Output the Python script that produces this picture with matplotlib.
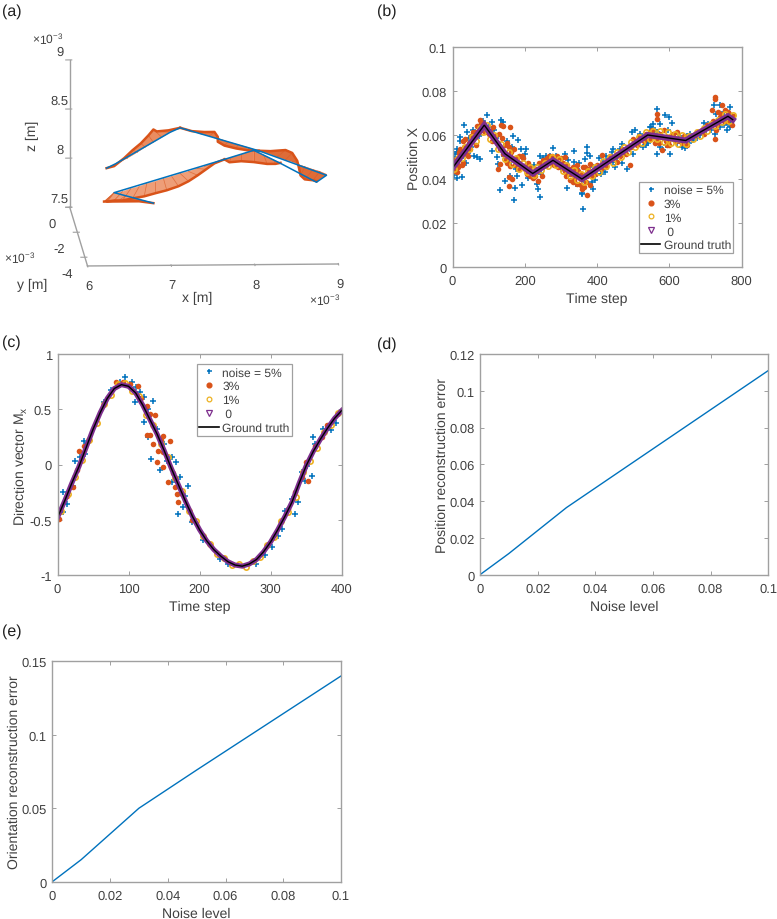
import matplotlib
matplotlib.use('Agg')
import matplotlib.pyplot as plt
from matplotlib.lines import Line2D
from mpl_toolkits.mplot3d.art3d import Poly3DCollection

plt.rcParams['font.family'] = ['Liberation Sans', 'DejaVu Sans']
plt.rcParams['mathtext.fontset'] = 'custom'
plt.rcParams['mathtext.rm'] = 'Liberation Sans'
plt.rcParams['mathtext.it'] = 'Liberation Sans'
plt.rcParams['text.hinting'] = 'no_hinting'
plt.rcParams['text.hinting_factor'] = 1

W, H = 777, 920
BLUE, ORANGE, YELLOW, PURPLE = '#0072BD', '#D95319', '#EDB120', '#7E2F8E'
TXT, SP = '#404040', '#a0a0a0'
FS = 9.6
LFS = 10.3

# ---- panel (a): trajectory, x and z in 1e-3 m
path_x = [6.91, 6.44, 7.76, 8.11, 8.43, 8.86, 8.98, 8.17, 7.23, 7.11, 6.46, 6.35]
path_z = [7.79, 7.90, 8.23, 8.32, 8.185, 7.99, 8.06, 8.315, 8.555, 8.51, 8.195, 8.15]
path_y = -2.0
# orientation whiskers: base x, base z, tip x, tip z, grouped by stretch of the path
whisk_tail = [(6.91,7.79,6.91,7.79),(6.74,7.83,6.74,7.81),(6.58,7.87,6.48,7.81),(6.44,7.90,6.32,7.81)]
whisk_a = [(6.44,7.90,6.36,7.81),(6.54,7.91,6.44,7.82),(6.64,7.94,6.54,7.82),(6.74,7.96,6.66,7.84),(6.83,7.99,6.80,7.86),
           (6.93,8.01,6.93,7.89),(7.03,8.04,7.07,7.92),(7.13,8.06,7.21,7.96),(7.23,8.09,7.33,8.01),
           (7.33,8.11,7.44,8.07),(7.43,8.14,7.54,8.13),(7.52,8.16,7.64,8.19),(7.62,8.19,7.70,8.21),(7.76,8.23,7.76,8.23)]
whisk_b = [(7.76,8.23,7.76,8.23),(7.84,8.25,7.82,8.20),(7.96,8.28,7.96,8.21),(8.11,8.32,8.11,8.20),
           (8.23,8.27,8.27,8.18),(8.35,8.22,8.37,8.18),(8.43,8.19,8.43,8.19)]
whisk_c = [(8.17,8.315,8.17,8.315),(8.27,8.29,8.31,8.31),(8.39,8.25,8.49,8.32),(8.49,8.22,8.57,8.29),(8.57,8.20,8.63,8.21),
           (8.65,8.17,8.65,8.14),(8.72,8.15,8.67,8.06),(8.82,8.12,8.72,8.02),(8.90,8.10,8.82,8.01),(8.98,8.07,8.86,8.00)]
whisk_d = [(7.23,8.555,7.23,8.555),(7.37,8.52,7.37,8.52),(7.48,8.49,7.52,8.51),(7.58,8.47,7.64,8.51),(7.64,8.45,7.68,8.46),
           (7.70,8.44,7.68,8.41),(7.80,8.41,7.76,8.37),(7.92,8.38,7.90,8.34),(8.04,8.35,8.04,8.32),(8.17,8.315,8.17,8.315)]
whisk_e = [(7.23,8.555,7.23,8.555),(7.17,8.54,7.09,8.53),(7.11,8.51,6.95,8.52),(7.01,8.46,6.91,8.54),(6.91,8.41,6.85,8.48),
           (6.81,8.36,6.76,8.40),(6.72,8.31,6.66,8.33),(6.60,8.25,6.56,8.25),(6.46,8.19,6.44,8.17),(6.35,8.15,6.35,8.15)]
whisk_groups = [(whisk_tail, '#DE6C38'), (whisk_a, '#EE9E78'), (whisk_b, '#E88457'),
                (whisk_c, '#DE6C38'), (whisk_d, '#E27A4A'), (whisk_e, '#EA8C60')]

# ---- panel (b)
truth_b_t = [0, 88, 145, 222, 278, 358, 540, 645, 762, 775]
truth_b_v = [.045, .0645, .0515, .0425, .0485, .0400, .0600, .0575, .0685, .0670]
n5_b = [(96,.0692),(33,.0645),(134,.067),(140,.0659),(108,.066),(39,.0612),(21,.0574),(22,.059),(12,.0536),(12,.0524),(7,.049),
 (4,.0418),(13,.0403),(27,.041),(44,.052),(67,.0498),(75,.049),(110,.0529),(168,.0597),(182,.0579),(203,.0536),(200,.0513),
 (122,.0498),(125,.047),(160,.0515),(159,.0415),(145,.0392),(179,.0412),(173,.0358),(191,.0373),(132,.0352),(170,.0306),
 (233,.0378),(237,.0355),(242,.0317),(316,.0358),(341,.0378),(279,.054),(242,.0503),(260,.0503),(311,.0515),(335,.0527),
 (373,.0544),(361,.0264),(357,.0337),(372,.0518),(335,.0477),(367,.0492),(385,.0386),(388,.0356),(358,.0333),(335,.0401),
 (417,.0477),(399,.0424),(422,.0432),(445,.0538),(464,.0538),(468,.056),(496,.0613),(505,.0621),(528,.0545),(482,.0447),
 (445,.0477),(547,.0636),(565,.072),(565,.0515),(588,.0689),(600,.0682),(606,.0654),(574,.0651),(556,.0651),(565,.0614),
 (583,.053),(602,.0515),(634,.0545),(643,.054),(666,.0576),(685,.0598),(708,.0651),(722,.0735),(740,.0735),(768,.0727),
 (768,.0636),(740,.0636),(726,.0606),(754,.0659),(777,.0682),(763,.0651),(657,.0606),(625,.0606),(611,.0583),
 (52,.0545),(60,.0505),(85,.0665),(115,.0625),(150,.0575),(190,.0535),(215,.0455),(225,.0465),(250,.0495),(270,.0505),
 (290,.0475),(320,.0485),(350,.0475),(390,.0455),(405,.0495),(430,.0475),(440,.0525),(455,.0495),(475,.0525),(490,.0535),
 (515,.0575),(535,.0555),(550,.0635),(590,.0555),(620,.0565),(655,.0565),(700,.0625),(715,.0625),(735,.0655),(750,.0645),
 (2,.0435),(6,.0515),(17,.0465),(29,.0505),(36,.0475),(47,.0585),(57,.0625),(72,.0595),(92,.0615),(102,.0635),(120,.0585),
 (128,.0555),(142,.0505),(155,.0475),(165,.0545),(176,.0445),(188,.0455),(210,.0405),(228,.0415),(245,.0425),(285,.0505),
 (300,.0445),(325,.0425),(345,.0445),(365,.0395),(380,.0505),(395,.0395),(410,.0425),(425,.0505),(450,.0455),(470,.0475),
 (500,.0515),(520,.0605),(540,.0565),(560,.0625),(575,.0545),(595,.0625),(630,.0595),(650,.0595),(675,.0585),(695,.0655),
 (730,.0695),(745,.0695),(758,.0625),(770,.0655)]
n3_b = [(76,.067),(85,.0655),(134,.0646),(140,.0643),(159,.0635),(68,.064),(58,.0612),(35,.0582),(28,.0575),(51,.0597),(19,.0525),
 (10,.049),(12,.0463),(13,.0432),(127,.0445),(132,.0468),(159,.046),(155,.0409),(156,.0368),(165,.04),(185,.0506),(198,.0453),
 (205,.0422),(215,.0414),(247,.0415),(237,.0393),(268,.0506),(310,.0499),(315,.0415),(333,.0385),(345,.0377),(371,.0326),
 (358,.0356),(381,.0371),(344,.0462),(367,.0455),(381,.047),(413,.0508),(454,.0477),(500,.0583),(491,.0462),(547,.0583),
 (565,.0697),(567,.0674),(579,.053),(593,.0556),(597,.0568),(620,.0614),(726,.0773),(726,.0765),(717,.0712),(745,.0735),
 (726,.058),(740,.0682),(763,.0705),(768,.0689),(772,.0644),(731,.0644),
 (105,.062),(112,.0635),(118,.0595),(128,.0605),(138,.0585),(145,.0555),(150,.0565),(155,.0545),(162,.0525),(170,.0535),
 (178,.0495),(185,.0475),(192,.0505),(200,.0445),(208,.0475),(215,.0435),(222,.0405),(230,.0445),(240,.0475),(250,.0485),
 (258,.0465),(266,.0485),(275,.0505),(285,.0495),(292,.0455),(300,.0495),(308,.0445),(318,.0465),(325,.0395),(332,.0455),
 (340,.0415),(348,.0435),(355,.0375),(362,.0455),(368,.0385),(375,.0445),(390,.0435),(400,.0465),(425,.0455),(435,.0505),
 (462,.0505),(470,.0535),(510,.0555),(525,.0585),(535,.0605),(552,.0625),(560,.0565),(572,.0565),(585,.0625),(600,.0555),
 (610,.0605),(628,.0575),(640,.0595),(670,.0605),(690,.0625),(705,.0645),(735,.0705),(750,.0665),(755,.0715),(775,.0685),
 (45,.0565),(42,.0505),(25,.0465),(5,.0435),(65,.0555),(95,.0625),
 (3,.047),(8,.0465),(15,.0455),(18,.0515),(22,.0535),(30,.0475),(32,.0545),(38,.052),(48,.0535),(55,.0575),(62,.0615),(72,.0625),
 (78,.0655),(82,.0625),(90,.0615),(100,.0605),(108,.0575),(122,.0565),(132,.0535),(140,.0515),(147,.0485),(152,.0475),(158,.0505),
 (165,.0495),(172,.0465),(180,.0445),(188,.0455),(195,.0495),(202,.0465),(212,.0455),(218,.0425),(228,.0415),(235,.0435),(245,.0455),
 (255,.0465),(262,.0495),(272,.0475),(280,.0465),(288,.0505),(298,.0475),(305,.0475),(312,.0435),(322,.0445),(328,.0425),(336,.0395),
 (342,.0445),(352,.0405),(358,.0425),(365,.0365),(372,.0415),(385,.0415),(395,.0425),(410,.0445),(418,.0475),(430,.0485),(445,.0495),
 (458,.0515),(480,.0515),(495,.0545),(505,.0565),(515,.0595),(530,.0575),(540,.0585),(545,.0615),(555,.0595),(565,.0585),(575,.0605),
 (590,.0575),(605,.0595),(618,.0575),(635,.0565),(650,.0555),(660,.0595),(680,.0615),(695,.0605),(710,.0635),(720,.0665),(728,.0625),
 (742,.0695),(758,.0665),(765,.0695)]
n1_b = [(5,.0445),(15,.0495),(25,.0495),(35,.0545),(45,.0535),(55,.059),(65,.0575),(75,.063),(85,.0615),(95,.0645),(105,.058),
 (115,.06),(125,.0535),(135,.056),(145,.049),(155,.0525),(165,.047),(175,.0495),(185,.0445),(195,.0475),(205,.043),(215,.0455),
 (225,.042),(235,.0455),(245,.044),(255,.0475),(265,.046),(275,.05),(285,.0465),(295,.049),(305,.0435),(315,.0465),(325,.0415),
 (335,.044),(345,.0395),(355,.0425),(365,.0385),(375,.0435),(385,.0415),(395,.0455),(405,.043),(415,.048),(425,.046),(435,.05),
 (445,.0475),(455,.0525),(465,.05),(475,.0545),(485,.0525),(495,.057),(505,.0545),(515,.059),(525,.0565),(535,.0615),(545,.058),
 (555,.062),(565,.058),(575,.062),(585,.057),(595,.0615),(605,.0565),(615,.0605),(625,.056),(635,.06),(645,.056),(655,.0595),
 (665,.058),(675,.0615),(685,.0595),(695,.063),(705,.062),(715,.065),(725,.064),(735,.067),(745,.066),(755,.0695),(765,.0665),(775,.069)]

# ---- panel (c)
truth_c_t = [0,10,20,30,40,50,60,70,80,90,100,110,120,130,140,150,160,170,180,190,200,210,220,230,240,250,260,270,280,290,300,310,320,330,340,350,360,370,380,390,400]
truth_c_v = [-.48,-.33,-.17,-.02,.15,.32,.47,.60,.69,.725,.71,.65,.54,.41,.28,.13,-.03,-.18,-.33,-.47,-.59,-.69,-.77,-.83,-.88,-.91,-.92,-.90,-.86,-.79,-.70,-.59,-.47,-.34,-.17,-.01,.12,.23,.33,.42,.49]
n5_c = [(95,.79),(88,.752),(105,.752),(116,.656),(122,.61),(109,.565),(134,.58),(122,.39),(128,.248),(132,.05),(144,-.048),(154,.036),
 (161,.066),(167,.02),(161,-.16),(173,-.115),(183,-.19),(180,-.28),(169,-.447),(177,-.387),(229,-.855),(280,-.9),(360,.248),(377,.293),
 (374,.323),(363,.187),(351,-.01),(358,-.1),(344,-.07),(349,-.145),(339,-.34),(330,-.31),(320,-.417),(334,-.447),(316,-.583),(302,-.75),
 (8,-.25),(13,-.357),(8,-.426),(22,-.19),(39,.097),(37,.218),(25,.036),(32,.066),(42,.2),(66,.57),(75,.68),(110,.70),(128,.5),(140,.32),
 (150,.19),(190,-.52),(205,-.68),(240,-.9),(292,-.82),(310,-.65),(385,.31),(392,.38)]
n3_c = [(126,.53),(137,.45),(126,.27),(130,.27),(149,.263),(158,.218),(135,.187),(142,.127),(149,.112),(149,-.024),(156,-.16),(166,-.205),
 (168,-.266),(170,-.34),(140,.02),(22,-.205),(30,.127),(37,.17),(372,.248),(353,-.145),(334,-.25),(344,-.115),(325,-.4),(1.5,-.49),(13,-.28),
 (114,.716),(83,.746),(92,.75),(102,.73),(118,.60),(130,.46),(145,.22),(162,-.08),(175,-.27),(190,-.5),(27,-.05),(45,.22),(362,.17),(380,.36),(350,.02)]
n1_c = [(5,-.42),(15,-.27),(25,-.11),(35,.04),(45,.22),(55,.38),(65,.55),(75,.63),(85,.73),(95,.74),(105,.67),(115,.62),(125,.45),(135,.36),
 (145,.19),(155,.07),(165,-.12),(175,-.24),(185,-.42),(195,-.51),(205,-.65),(215,-.72),(225,-.81),(235,-.85),(245,-.91),(255,-.90),(265,-.93),
 (275,-.87),(285,-.84),(295,-.73),(305,-.66),(315,-.51),(325,-.43),(335,-.29),(345,-.07),(355,.03),(365,.15),(375,.30),(385,.36),(395,.47)]

# ---- panels (d), (e)
noise_levels = [0, .01, .03, .05, .1]
pos_error = [0, .0115, .0365, .0578, .111]
ori_error = [0, .015, .05, .076, .14]

fig = plt.figure(figsize=(W/100, H/100), dpi=100)

def rect(x0, x1, ytop, ybot):
    return [x0/W, 1-ybot/H, (x1-x0)/W, (ybot-ytop)/H]

def style(ax):
    for s in ax.spines.values():
        s.set_color(SP); s.set_linewidth(1.0)
    ax.tick_params(direction='in', top=True, right=True, length=3, width=.7, color=SP,
                   labelcolor=TXT, labelsize=FS, pad=4)
    ax.tick_params(axis='x', pad=5.5)

def labels(ax, xl, yl):
    ax.set_xlabel(xl, fontsize=LFS, color=TXT, labelpad=3.5)
    ax.set_ylabel(yl, fontsize=LFS, color=TXT, labelpad=0.5)

def legend(ax, px):
    handles = [Line2D([], [], ls='', marker='+', ms=3.6, mew=1.1, color=BLUE, label='noise = 5%'),
               Line2D([], [], ls='', marker='o', ms=3.4, color=ORANGE, label='3%'),
               Line2D([], [], ls='', marker='o', ms=3.4, mfc='none', mew=.9, color=YELLOW, label='1%'),
               Line2D([], [], ls='', marker='v', ms=3.8, mfc='none', mew=.9, color=PURPLE, label=' 0'),
               Line2D([], [], color='k', lw=1.2, label='Ground truth')]
    x0, x1, yt, yb = px
    leg = ax.legend(handles=handles, loc='center', bbox_to_anchor=((x0+x1)/2/W, 1-(yt+yb)/2/H),
                    bbox_transform=fig.transFigure, fontsize=8.6, fancybox=False, framealpha=1,
                    edgecolor=SP, labelcolor=TXT, handlelength=1.6, handletextpad=.3, borderpad=.2,
                    labelspacing=.22, borderaxespad=0)
    leg.get_frame().set_linewidth(.9)

def scatter_panel(ax, tt, tv, n5, n3, n1, band):
    ax.plot(*zip(*n5), ls='', marker='+', ms=4.0, mew=1.1, color=BLUE)
    ax.plot(*zip(*n3), ls='', marker='o', ms=4.0, mew=0, color=ORANGE)
    ax.plot(*zip(*n1), ls='', marker='o', ms=3.8, mfc='none', mew=1.2, color=YELLOW)
    ax.plot(tt, tv, color=PURPLE, lw=band, solid_joinstyle='miter')
    ax.plot(tt, tv, color='k', lw=1.0, solid_joinstyle='miter')

# (a)
ax = fig.add_axes([15/W, 1-317/H, 370/W, 300/H], projection='3d', computed_zorder=False)
ax.set_proj_type('ortho')
ax.view_init(elev=9.3, azim=-92.8)
ax.set_box_aspect((254, 368, 151), zoom=1.51)
ax.patch.set_alpha(0)
ax.set_xlim(6e-3, 9e-3); ax.set_ylim(-4.7e-3, 0); ax.set_zlim(7.5e-3, 9e-3)
for g, shade in whisk_groups:
    quads = []
    for p, q in zip(g[:-1], g[1:]):
        quads.append([(p[0]*1e-3, path_y*1e-3, p[1]*1e-3), (q[0]*1e-3, path_y*1e-3, q[1]*1e-3),
                      (q[2]*1e-3, path_y*1e-3, q[3]*1e-3), (p[2]*1e-3, path_y*1e-3, p[3]*1e-3)])
    ax.add_collection3d(Poly3DCollection(quads, facecolor=shade, edgecolor=shade, linewidths=.3, zorder=1))
    for w in g:
        ax.plot([w[0]*1e-3, w[2]*1e-3], [path_y*1e-3]*2, [w[1]*1e-3, w[3]*1e-3], color=ORANGE, lw=.5, alpha=.7, zorder=2)
    ax.plot([w[2]*1e-3 for w in g], [path_y*1e-3]*len(g), [w[3]*1e-3 for w in g], color=ORANGE, lw=1.8, zorder=3)
ax.plot([v*1e-3 for v in path_x], [path_y*1e-3]*len(path_x), [v*1e-3 for v in path_z], color=BLUE, lw=1.1, zorder=4)
ax.grid(False)
for a in (ax.xaxis, ax.yaxis, ax.zaxis):
    a.set_pane_color((1, 1, 1, 0))
    a.pane.set_edgecolor((1, 1, 1, 0))
    a.line.set_color(SP)
    a.line.set_linewidth(1.0)
ax.set_xticks([6e-3, 7e-3, 8e-3, 9e-3], ['6', '7', '8', '9'])
ax.set_yticks([-4e-3, -2e-3, 0], ['-4', '-2', '0'])
ax.set_zticks([7.5e-3, 8e-3, 8.5e-3, 9e-3], ['7.5', '8', '8.5', '9'])
ax.tick_params(labelsize=FS, labelcolor=TXT, color=SP)
ax.tick_params(axis='x', pad=-0.5)
ax.tick_params(axis='y', pad=0)
ax.tick_params(axis='z', pad=-3.8)
plt.setp(ax.zaxis.get_ticklabels(), va='bottom')
fig.text(197/W, 1-298/H, 'x [m]', fontsize=LFS, color=TXT, ha='center', va='center')
fig.text(32/W, 1-285/H, 'y [m]', fontsize=LFS, color=TXT, ha='center', va='center')
fig.text(32/W, 1-136/H, 'z [m]', fontsize=LFS, color=TXT, ha='center', va='center', rotation=90)

# (b)
ax = fig.add_axes(rect(452.5, 741.7, 48, 268)); style(ax)
scatter_panel(ax, truth_b_t, truth_b_v, n5_b, n3_b, n1_b, 4.4)
ax.set_xlim(0, 800); ax.set_ylim(0, .1)
ax.set_xticks([0, 200, 400, 600, 800]); ax.set_yticks([0, .02, .04, .06, .08, .1], ['0', '0.02', '0.04', '0.06', '0.08', '0.1'])
labels(ax, 'Time step', 'Position X')
legend(ax, (638, 734, 180, 257))

# (c)
ax = fig.add_axes(rect(57.5, 341.7, 355.3, 576)); style(ax)
scatter_panel(ax, truth_c_t, truth_c_v, n5_c, n3_c, n1_c, 3.6)
ax.set_xlim(0, 400); ax.set_ylim(-1, 1)
ax.set_xticks([0, 100, 200, 300, 400]); ax.set_yticks([-1, -.5, 0, .5, 1], ['-1', '-0.5', '0', '0.5', '1'])
labels(ax, 'Time step', 'Direction vector M$_{\\mathrm{x}}$')
legend(ax, (197, 292, 363, 439))

# (d)
ax = fig.add_axes(rect(480, 768.3, 355, 575.7)); style(ax)
ax.plot(noise_levels, pos_error, color=BLUE, lw=1.0)
ax.set_xlim(0, .1); ax.set_ylim(0, .12)
ax.set_xticks([0, .02, .04, .06, .08, .1], ['0', '0.02', '0.04', '0.06', '0.08', '0.1'])
ax.set_yticks([0, .02, .04, .06, .08, .1, .12], ['0', '0.02', '0.04', '0.06', '0.08', '0.1', '0.12'])
labels(ax, 'Noise level', 'Position reconstruction error')

# (e)
ax = fig.add_axes(rect(52.3, 341, 662.3, 882.7)); style(ax)
ax.plot(noise_levels, ori_error, color=BLUE, lw=1.0)
ax.set_xlim(0, .1); ax.set_ylim(0, .15)
ax.set_xticks([0, .02, .04, .06, .08, .1], ['0', '0.02', '0.04', '0.06', '0.08', '0.1'])
ax.set_yticks([0, .05, .1, .15], ['0', '0.05', '0.1', '0.15'])
labels(ax, 'Noise level', 'Orientation reconstruction error')

for s, x, y in [('(a)', 2, 12), ('(b)', 377, 12), ('(c)', 2, 343), ('(d)', 377, 345), ('(e)', 2, 632)]:
    fig.text(x/W, 1-y/H, s, fontsize=11.8, color='#202020', va='center', ha='left')
for x, y in [(32, 39), (4, 258), (309, 300)]:
    fig.text(x/W, 1-y/H, '$\\times 10^{-3}$', fontsize=8.4, color=TXT, va='center', ha='left')

fig.savefig('out.png', dpi=100)
